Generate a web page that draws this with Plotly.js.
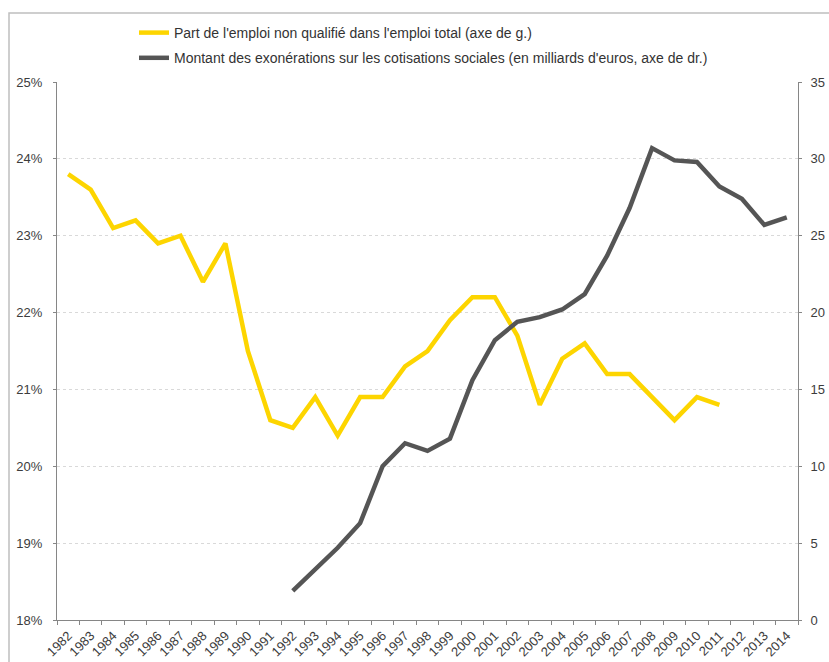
<!DOCTYPE html>
<html>
<head>
<meta charset="utf-8">
<script src="https://cdn.plot.ly/plotly-3.0.1.min.js"></script>
<style>html,body{margin:0;padding:0;background:#fff;}#chart{width:829px;height:662px;}</style>
</head>
<body>
<div id="chart"></div>
<script>
var years = ["1982","1983","1984","1985","1986","1987","1988","1989","1990","1991","1992","1993","1994","1995","1996","1997","1998","1999","2000","2001","2002","2003","2004","2005","2006","2007","2008","2009","2010","2011","2012","2013","2014"];
var partEmploiNonQualifie = [23.8,23.6,23.1,23.2,22.9,23.0,22.4,22.9,21.5,20.6,20.5,20.9,20.4,20.9,20.9,21.3,21.5,21.9,22.2,22.2,21.7,20.8,21.4,21.6,21.2,21.2,20.9,20.6,20.9,20.8,null,null,null];
var exonerations = [null,null,null,null,null,null,null,null,null,null,1.9,3.3,4.7,6.3,10.0,11.5,11.0,11.8,15.6,18.2,19.4,19.7,20.2,21.2,23.7,26.8,30.7,29.9,29.8,28.2,27.4,25.7,26.2];
var nameYellow = "Part de l'emploi non qualifié dans l'emploi total (axe de g.)";
var nameGray = "Montant des exonérations sur les cotisations sociales (en milliards d'euros, axe de dr.)";

var traces = [
  {x: years, y: partEmploiNonQualifie, name: nameYellow, type: 'scatter', mode: 'lines',
   line: {color: '#FDD500', width: 4.5}, yaxis: 'y', legendgroup: 'a', connectgaps: false},
  {x: years, y: exonerations, name: nameGray, type: 'scatter', mode: 'lines',
   line: {color: '#555555', width: 4.5}, yaxis: 'y2', legendgroup: 'b', connectgaps: false}
];

var tickFont = {family: 'Liberation Sans, Arial, sans-serif', size: 13, color: '#3c3c3c'};
var layout = {
  width: 829, height: 662,
  margin: {l: 57, r: 31, t: 82, b: 42},
  paper_bgcolor: '#fff', plot_bgcolor: '#fff',
  showlegend: true,
  legend: {x: (134-57)/741, y: 1 + (82-17)/538, xanchor: 'left', yanchor: 'top',
           font: {family: 'Liberation Sans, Arial, sans-serif', size: 14, color: '#333'},
           itemwidth: 30, tracegroupgap: 4, bgcolor: 'rgba(0,0,0,0)'},
  xaxis: {type: 'category', tickson: 'boundaries', ticks: 'outside', ticklen: 4, tickcolor: '#868686',
          showline: true, linecolor: '#868686', linewidth: 1, showgrid: false, zeroline: false,
          tickangle: -45, ticklabelstandoff: 2,
          tickfont: {family: 'Liberation Sans, Arial, sans-serif', size: 13, color: '#3c3c3c'},
          range: [-0.5, 32.5]},
  yaxis: {range: [18, 25], dtick: 1, ticksuffix: '%', ticks: 'outside', ticklen: 3, tickcolor: '#868686',
          showline: true, linecolor: '#868686', linewidth: 1, showgrid: true, gridcolor: '#d9d9d9',
          griddash: 'dot', zeroline: false, tickfont: tickFont, ticklabelstandoff: 8},
  yaxis2: {range: [0, 35], dtick: 5, overlaying: 'y', side: 'right', ticks: 'outside', ticklen: 3,
           tickcolor: '#868686', showline: true, linecolor: '#868686', linewidth: 1, showgrid: false,
           zeroline: false, tickfont: tickFont, ticklabelstandoff: 6},
  shapes: [
    {type: 'rect', xref: 'paper', yref: 'paper', x0: (9-57)/741, x1: (840-57)/741,
     y0: -0.12, y1: 1 + (82-13)/538, line: {color: '#bfbfbf', width: 1.5}, fillcolor: 'rgba(0,0,0,0)', layer: 'below'}
  ]
};
Plotly.newPlot('chart', traces, layout, {displayModeBar: false, staticPlot: true});
</script>
</body>
</html>
